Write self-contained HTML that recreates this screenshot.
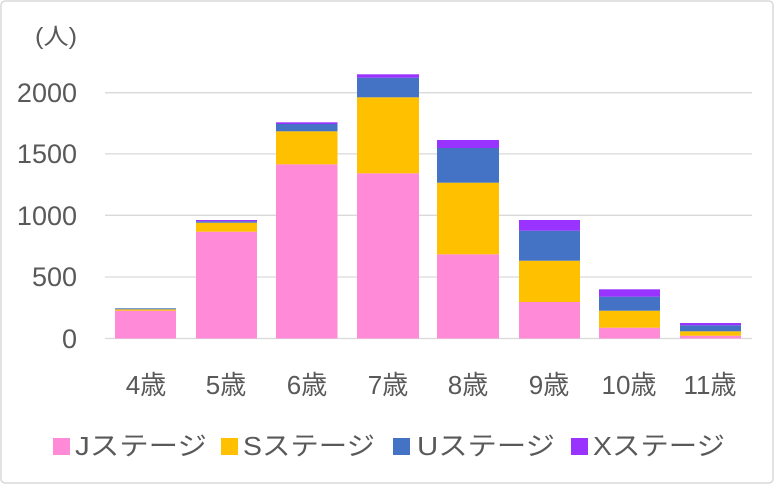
<!DOCTYPE html>
<html><head><meta charset="utf-8"><style>
html,body{margin:0;padding:0;background:#fff;}
svg{display:block;}
text{font-family:"Liberation Sans","Noto Sans CJK JP",sans-serif;fill:#595959;}
</style></head><body>
<svg width="775" height="485" viewBox="0 0 775 485" xmlns="http://www.w3.org/2000/svg">
<rect x="1" y="1" width="772" height="482" rx="4" fill="#fff" stroke="#d9d9d9" stroke-width="1.5"/>
<g stroke="#d9d9d9" stroke-width="1.3">
<line x1="105" x2="752" y1="92.7" y2="92.7"/>
<line x1="105" x2="752" y1="153.9" y2="153.9"/>
<line x1="105" x2="752" y1="215.3" y2="215.3"/>
<line x1="105" x2="752" y1="277" y2="277"/>
<line x1="105" x2="752" y1="338.5" y2="338.5"/>
</g>
<g font-size="27" text-anchor="end">
<text x="77" y="102">2000</text>
<text x="77" y="163">1500</text>
<text x="77" y="225">1000</text>
<text x="77" y="286">500</text>
<text x="77" y="348">0</text>
</g>
<text x="35" y="44" font-size="23" textLength="42" lengthAdjust="spacingAndGlyphs">(人)</text>
<g id="bars">
<rect x="115" y="310.7" width="61" height="27.8" fill="#ff8ad8"/>
<rect x="115" y="309.3" width="61" height="1.4" fill="#ffc000"/>
<rect x="115" y="308.3" width="61" height="1" fill="#4472c4"/>
<rect x="196" y="231.7" width="61" height="106.8" fill="#ff8ad8"/>
<rect x="196" y="222.7" width="61" height="9" fill="#ffc000"/>
<rect x="196" y="221.3" width="61" height="1.4" fill="#4472c4"/>
<rect x="196" y="220" width="61" height="1.3" fill="#9933ff"/>
<rect x="276" y="164.3" width="61.5" height="174.2" fill="#ff8ad8"/>
<rect x="276" y="131.3" width="61.5" height="33" fill="#ffc000"/>
<rect x="276" y="124" width="61.5" height="7.3" fill="#4472c4"/>
<rect x="276" y="122.3" width="61.5" height="1.7" fill="#9933ff"/>
<rect x="357" y="173.3" width="62" height="165.2" fill="#ff8ad8"/>
<rect x="357" y="97.3" width="62" height="76" fill="#ffc000"/>
<rect x="357" y="77.7" width="62" height="19.6" fill="#4472c4"/>
<rect x="357" y="74.3" width="62" height="3.4" fill="#9933ff"/>
<rect x="437" y="254.3" width="62" height="84.2" fill="#ff8ad8"/>
<rect x="437" y="182.7" width="62" height="71.6" fill="#ffc000"/>
<rect x="437" y="148" width="62" height="34.7" fill="#4472c4"/>
<rect x="437" y="140" width="62" height="8" fill="#9933ff"/>
<rect x="519" y="302" width="61" height="36.5" fill="#ff8ad8"/>
<rect x="519" y="260.7" width="61" height="41.3" fill="#ffc000"/>
<rect x="519" y="230.7" width="61" height="30" fill="#4472c4"/>
<rect x="519" y="220" width="61" height="10.7" fill="#9933ff"/>
<rect x="599" y="327.7" width="61" height="10.8" fill="#ff8ad8"/>
<rect x="599" y="310.7" width="61" height="17" fill="#ffc000"/>
<rect x="599" y="296.7" width="61" height="14" fill="#4472c4"/>
<rect x="599" y="289.3" width="61" height="7.4" fill="#9933ff"/>
<rect x="680" y="335.7" width="61" height="2.8" fill="#ff8ad8"/>
<rect x="680" y="331.3" width="61" height="4.4" fill="#ffc000"/>
<rect x="680" y="325.3" width="61" height="6" fill="#4472c4"/>
<rect x="680" y="323" width="61" height="2.3" fill="#9933ff"/>
</g>
<g font-size="26" text-anchor="middle">
<text x="146" y="394">4歳</text>
<text x="226" y="394">5歳</text>
<text x="307" y="394">6歳</text>
<text x="388" y="394">7歳</text>
<text x="468" y="394">8歳</text>
<text x="549" y="394">9歳</text>
<text x="629" y="394">10歳</text>
<text x="710" y="394">11歳</text>
</g>
<g font-size="26">
<rect x="53" y="438" width="17" height="17" fill="#ff8ad8"/>
<text x="75" y="455" textLength="132" lengthAdjust="spacingAndGlyphs">Jステージ</text>
<rect x="221" y="438" width="17" height="17" fill="#ffc000"/>
<text x="243" y="455" textLength="132" lengthAdjust="spacingAndGlyphs">Sステージ</text>
<rect x="393" y="438" width="17" height="17" fill="#4472c4"/>
<text x="417" y="455" textLength="138" lengthAdjust="spacingAndGlyphs">Uステージ</text>
<rect x="571" y="438" width="17" height="17" fill="#9933ff"/>
<text x="593" y="455" textLength="132" lengthAdjust="spacingAndGlyphs">Xステージ</text>
</g>
</svg>
</body></html>
